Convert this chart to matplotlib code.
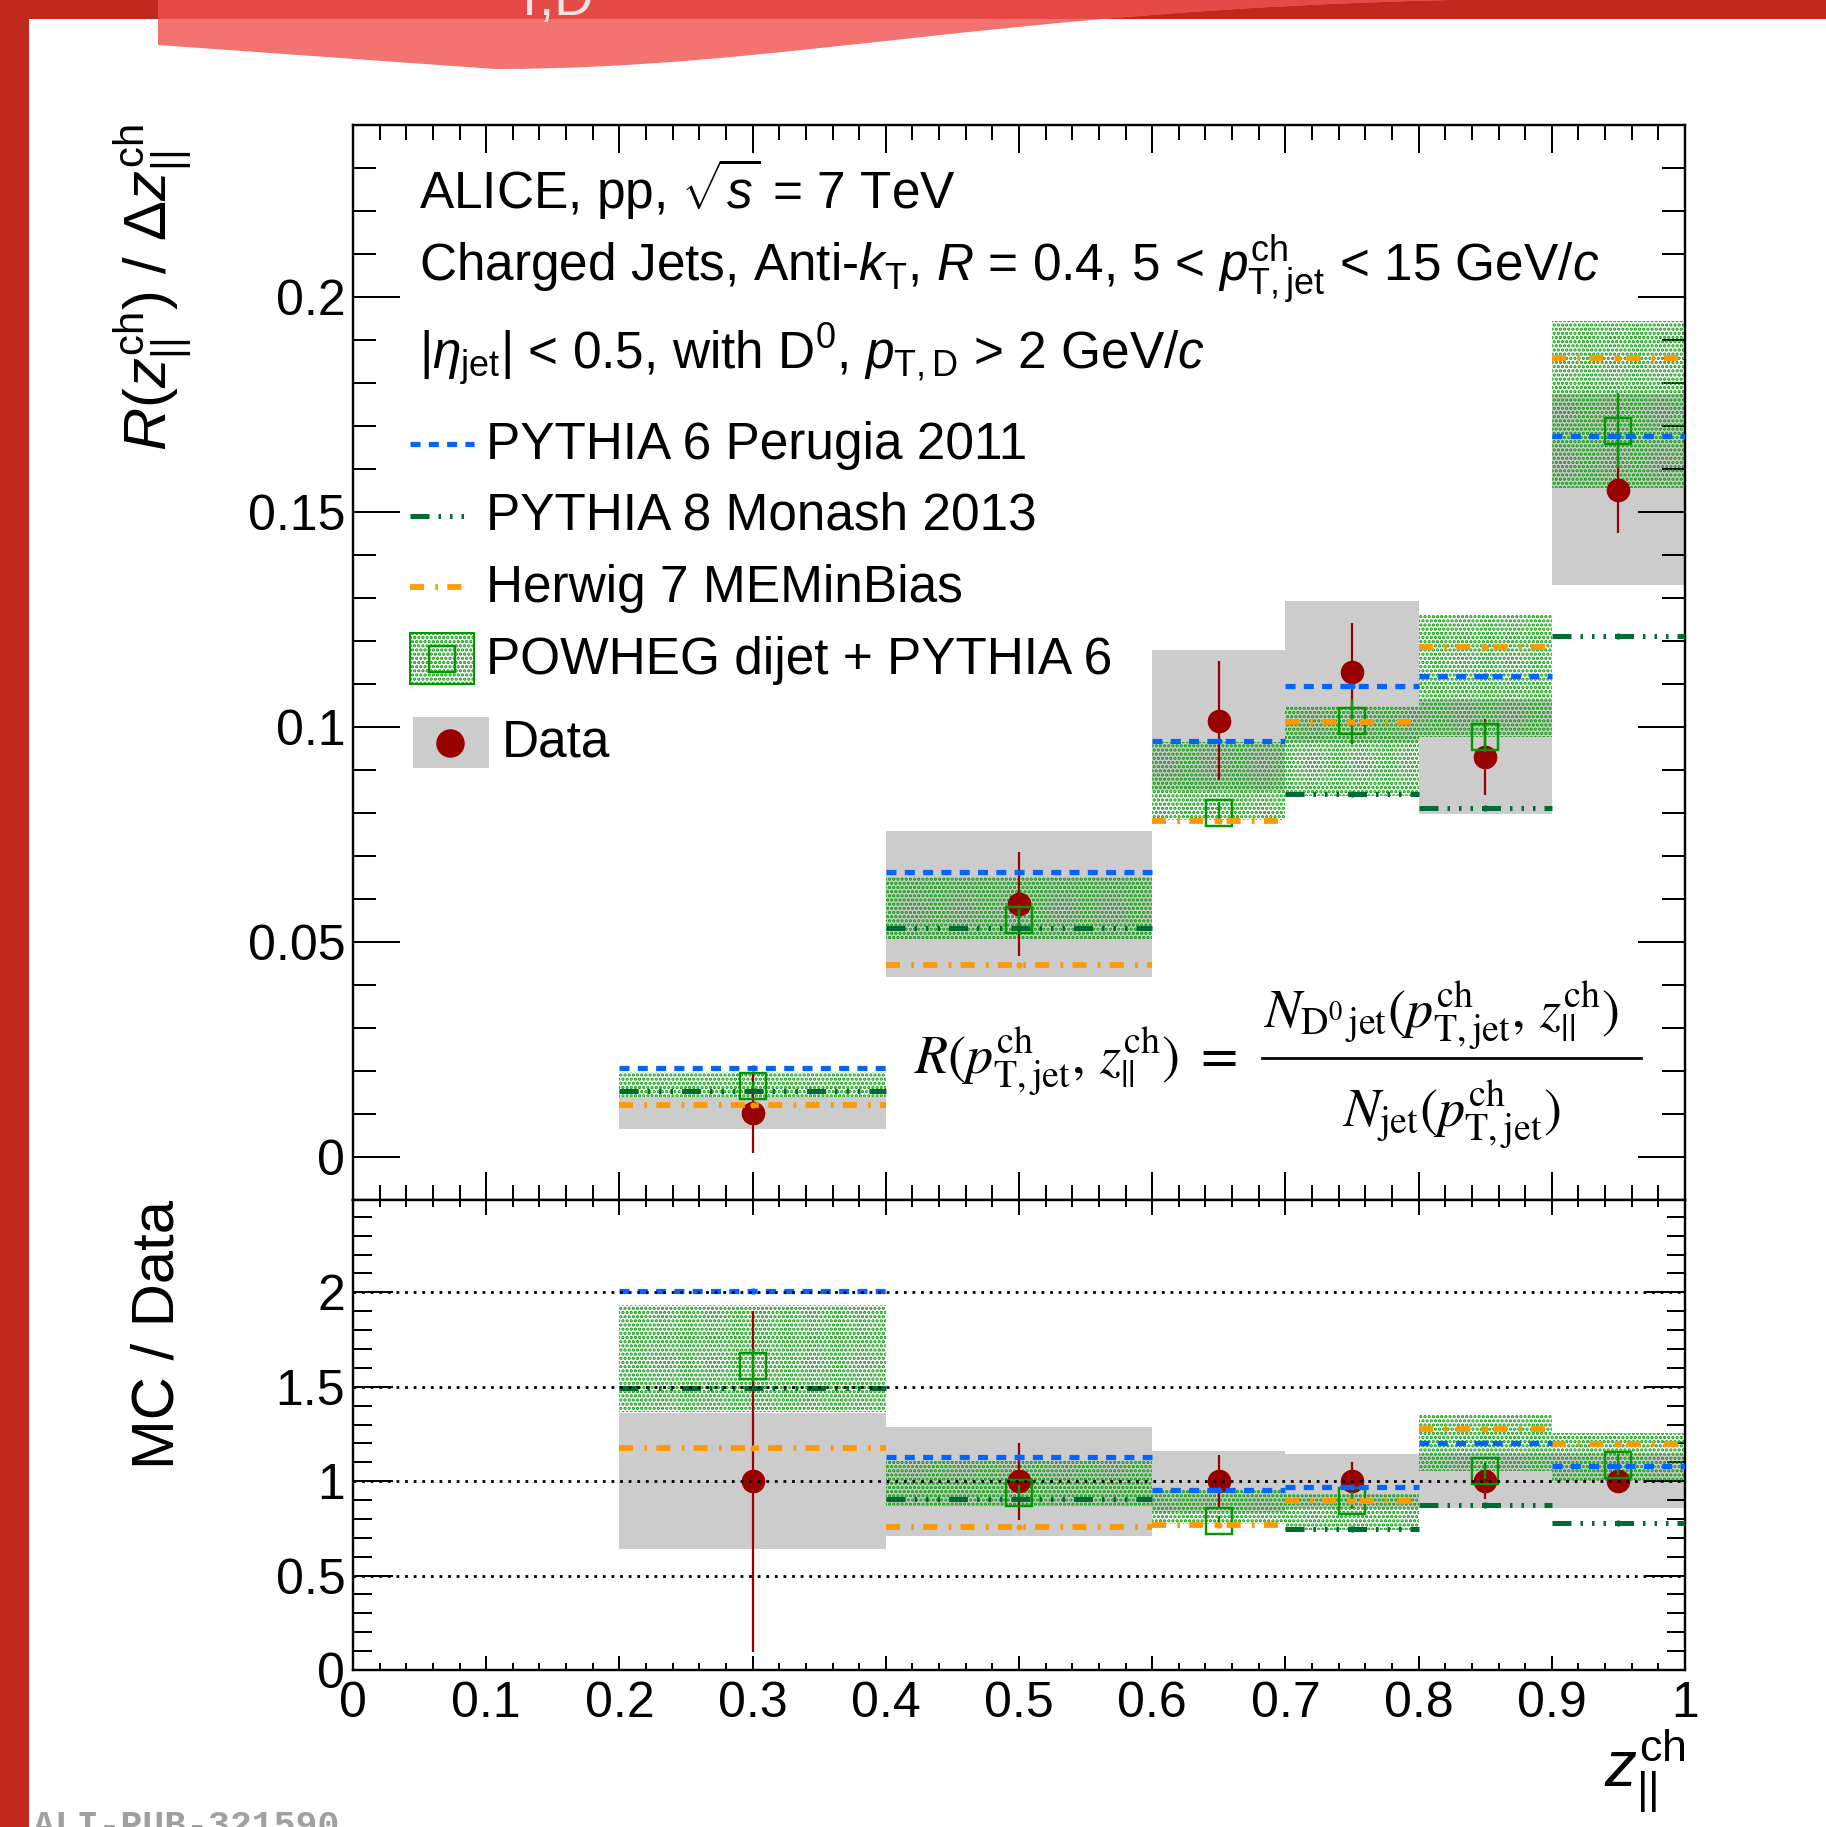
import numpy as np
import matplotlib
matplotlib.use("Agg")
import matplotlib.pyplot as plt
from matplotlib.patches import Rectangle, PathPatch
from matplotlib.path import Path
from matplotlib.lines import Line2D
from matplotlib.ticker import MultipleLocator, FuncFormatter

plt.rcParams['font.family'] = ['Liberation Sans', 'DejaVu Sans']
plt.rcParams['mathtext.fontset'] = 'custom'
plt.rcParams['mathtext.rm'] = 'Liberation Sans'
plt.rcParams['mathtext.it'] = 'Liberation Sans:italic'
plt.rcParams['mathtext.bf'] = 'Liberation Sans:bold'
plt.rcParams['lines.scale_dashes'] = False
plt.rcParams['hatch.linewidth'] = 1.6

# ---------------- data ----------------
z_edges = [0.2, 0.4, 0.6, 0.7, 0.8, 0.9, 1.0]

data_val = [0.0103, 0.0589, 0.1015, 0.1129, 0.0930, 0.1552]
data_stat = [0.0093, 0.0120, 0.0139, 0.0114, 0.0089, 0.0100]
data_sys = [0.0037, 0.0170, 0.0163, 0.0163, 0.0133, 0.0222]

pythia6 = [0.0207, 0.0664, 0.0968, 0.1096, 0.1119, 0.1676]
pythia8 = [0.0154, 0.0532, np.nan, 0.0844, 0.0811, 0.1212]
herwig = [0.0121, 0.0446, 0.0782, 0.1012, 0.1185, 0.1857]

powheg = [0.0166, 0.0552, 0.0801, 0.1013, 0.0978, 0.1689]
powheg_stat = [0.0009, 0.0025, 0.0025, 0.0052, 0.0035, 0.0088]
powheg_lo = [0.0141, 0.0508, 0.0784, 0.0840, 0.0978, 0.1555]
powheg_hi = [0.0199, 0.0652, 0.0966, 0.1050, 0.1262, 0.1944]

ratio_ref = [0.5, 1.0, 1.5, 2.0]

x_ticks_lab = ['0', '0.1', '0.2', '0.3', '0.4', '0.5', '0.6', '0.7', '0.8', '0.9', '1']

# ---------------- styles ----------------
PX = 0.72  # points per pixel at dpi 100
C_P6 = '#0066FF'
C_P8 = '#006B33'
C_HW = '#FF9900'
C_PW = '#009A00'
C_DATA = '#990000'
C_SYS = '#CCCCCC'

style_p6 = dict(color=C_P6, lw=5.2 * PX, ls=(0, (10 * PX, 8.3 * PX)), dash_capstyle='butt')
style_p8 = dict(color=C_P8, lw=5.0 * PX,
                ls=(0, (19 * PX, 9 * PX, 2.5 * PX, 9 * PX, 2.5 * PX, 9 * PX, 2.5 * PX, 9 * PX)),
                dash_capstyle='butt')
style_hw = dict(color=C_HW, lw=5.8 * PX, ls=(0, (14 * PX, 11.3 * PX, 2.7 * PX, 9.3 * PX)),
                dash_capstyle='butt')

edges = np.array(z_edges)
lefts = edges[:-1]
rights = edges[1:]
widths = rights - lefts
centers = 0.5 * (lefts + rights)

dv = np.array(data_val)
ds = np.array(data_stat)
dy = np.array(data_sys)
p6 = np.array(pythia6)
p8 = np.array(pythia8)
hw = np.array(herwig)
pw = np.array(powheg)
pws = np.array(powheg_stat)
pwl = np.array(powheg_lo)
pwh = np.array(powheg_hi)

W, H = 1826, 1827
fig = plt.figure(figsize=(W / 100, H / 100), dpi=100)

# ---------------- page decoration ----------------
deco = fig.add_axes([0, 0, 1, 1], zorder=-5)
deco.set_xlim(0, W)
deco.set_ylim(H, 0)
deco.axis('off')
dark_red = '#C1281E'
deco.add_patch(Rectangle((0, 0), W, 19, facecolor=dark_red, lw=0))
deco.add_patch(Rectangle((0, 0), 29, H, facecolor=dark_red, lw=0))
sw_verts = [(158, 0), (158, 45), (495, 69), (780, 69), (1000, 10), (1450, 0), (158, 0)]
sw_codes = [Path.MOVETO, Path.LINETO, Path.LINETO, Path.CURVE4, Path.CURVE4, Path.CURVE4,
            Path.CLOSEPOLY]
deco.add_patch(PathPatch(Path(sw_verts, sw_codes), facecolor='#F37371', lw=0))
sw_top = PathPatch(Path(sw_verts, sw_codes), facecolor='#E64A46', lw=0)
deco.add_patch(sw_top)
sw_top.set_clip_path(Rectangle((0, 0), W, 19, transform=deco.transData))
deco.text(513, 15, 'T,D', color='#EEE6E6', fontsize=39, va='baseline', ha='left')
deco.text(33, 1836, 'ALI-PUB-321590', family='Liberation Mono', fontsize=26.3,
          fontweight='bold', color='#A0A0A0', va='baseline', ha='left')

# ---------------- axes ----------------
ax = fig.add_axes([0.19332, 0.34297, 0.72946, 0.58878])
axr = fig.add_axes([0.19332, 0.08593, 0.72946, 0.25704])

fmt = FuncFormatter(lambda v, p: '%g' % round(v, 4))


def style_axis(a, xmaj, xmin, ymaj, ymin):
    for s in a.spines.values():
        s.set_linewidth(2.4 * PX)
    a.xaxis.set_major_locator(MultipleLocator(0.1))
    a.xaxis.set_minor_locator(MultipleLocator(0.02))
    a.tick_params(axis='both', which='both', direction='in', top=True, right=True,
                  width=2.0 * PX, labelsize=36)
    a.tick_params(axis='x', which='major', length=xmaj * PX, pad=8.0)
    a.tick_params(axis='x', which='minor', length=xmin * PX)
    a.tick_params(axis='y', which='major', length=ymaj * PX, pad=5.5)
    a.tick_params(axis='y', which='minor', length=ymin * PX)
    a.yaxis.set_major_formatter(fmt)
    a.set_xlim(0, 1)


style_axis(ax, 28, 15, 47.5, 23)
style_axis(axr, 14.5, 7.3, 40, 18.5)
ax.set_ylim(-0.01, 0.24)
ax.yaxis.set_major_locator(MultipleLocator(0.05))
ax.yaxis.set_minor_locator(MultipleLocator(0.01))
ax.tick_params(axis='x', labelbottom=False)
axr.set_ylim(0, 2.487)
axr.yaxis.set_major_locator(MultipleLocator(0.5))
axr.yaxis.set_minor_locator(MultipleLocator(0.1))
axr.set_xticks(np.linspace(0, 1, 11))
axr.set_xticklabels(x_ticks_lab)


def draw_panel(a, d, dstat, dsys, m6, m8, mh, mp, mps, mlo, mhi):
    a.bar(lefts, 2 * dsys, bottom=d - dsys, width=widths, align='edge',
          color=C_SYS, lw=0, zorder=1)
    a.bar(lefts, mhi - mlo, bottom=mlo, width=widths, align='edge',
          facecolor='none', edgecolor=C_PW, hatch='....', lw=0, zorder=2)
    a.errorbar(centers, d, yerr=dstat, fmt='o', color=C_DATA, ms=16,
               elinewidth=2.2 * PX, capsize=0, zorder=3)
    a.errorbar(centers, mp, yerr=mps, fmt='s', mfc='none', mec=C_PW, ecolor=C_PW,
               ms=18.5, mew=2.4 * PX, elinewidth=2.4 * PX, capsize=0, zorder=4)
    for vals, st in ((mh, style_hw), (m8, style_p8), (m6, style_p6)):
        for x0, x1, v in zip(lefts, rights, vals):
            if np.isfinite(v):
                a.plot([x0, x1], [v, v], zorder=5, **st)
        a.plot(centers, vals, 'o', ms=4.5, color=st['color'], mew=0, zorder=5)


draw_panel(ax, dv, ds, dy, p6, p8, hw, pw, pws, pwl, pwh)
draw_panel(axr, dv / dv, ds / dv, dy / dv, p6 / dv, p8 / dv, hw / dv, pw / dv,
           pws / dv, pwl / dv, pwh / dv)

for r in ratio_ref:
    axr.axhline(r, color='black', lw=2.8 * PX, ls=(0, (2.8 * PX, 5.8 * PX)),
                dash_capstyle='butt', zorder=6)

# ---------------- axis titles ----------------
ax.text(-0.1389, 1.0, r'$R(z_{||}^{\rm ch})$ / $\Delta z_{||}^{\rm ch}$', transform=ax.transAxes,
        rotation=90, rotation_mode='anchor', ha='right', va='baseline', fontsize=43)
axr.text(-0.1344, 1.0, 'MC / Data', transform=axr.transAxes,
         rotation=90, rotation_mode='anchor', ha='right', va='baseline', fontsize=43)
axr.text(1.0, -0.2491, r'$z_{||}^{\rm ch}$', transform=axr.transAxes,
         ha='right', va='baseline', fontsize=46)

# ---------------- labels and legend ----------------
tf = ax.transAxes
FS = 37
ax.text(0.0495, 0.9213, r'ALICE, pp, $\sqrt{s}$ = 7 TeV', transform=tf, fontsize=FS,
        va='baseline')
ax.text(0.0495, 0.8539,
        r'Charged Jets, Anti-$k_{\rm T}$, $R$ = 0.4, 5 < $p_{\rm T,jet}^{\rm ch}$ < 15 GeV/$c$',
        transform=tf, fontsize=FS, va='baseline')
ax.text(0.0495, 0.7721, r'|$\eta_{\rm jet}$| < 0.5, with D$^{0}$, $p_{\rm T,D}$ > 2 GeV/$c$',
        transform=tf, fontsize=FS, va='baseline')

legend_rows = [
    ('PYTHIA 6 Perugia 2011', 0.6889, 0.7035, 0.0906, style_p6),
    ('PYTHIA 8 Monash 2013', 0.6237, 0.6363, 0.0841, style_p8),
    ('Herwig 7 MEMinBias', 0.5562, 0.5698, 0.0841, style_hw),
]
for label, yb, yl, xe, st in legend_rows:
    ax.add_line(Line2D([0.0431, xe], [yl, yl], transform=tf, **st))
    ax.text(0.1000, yb, label, transform=tf, fontsize=FS, va='baseline')

ax.add_patch(Rectangle((0.0431, 0.4802), 0.0475, 0.0469, transform=tf, facecolor='none',
                       edgecolor=C_PW, hatch='....', lw=2.0 * PX))
ax.add_line(Line2D([0.0668], [0.5036], transform=tf, marker='s', ms=18.5, mfc='none',
                   mec=C_PW, mew=2.4 * PX, ls='none'))
ax.text(0.1000, 0.4897, 'POWHEG dijet + PYTHIA 6', transform=tf, fontsize=FS, va='baseline')

ax.add_patch(Rectangle((0.0450, 0.4017), 0.0571, 0.0473, transform=tf, facecolor=C_SYS, lw=0))
ax.add_line(Line2D([0.0730], [0.4253], transform=tf, marker='o', ms=19.5, color=C_DATA,
                   ls='none'))
ax.text(0.1115, 0.4129, 'Data', transform=tf, fontsize=FS, va='baseline')

# ---------------- definition of R ----------------
FF = 39
ax.text(0.4215, 0.1182, r'$R(p_{\mathrm{T,jet}}^{\mathrm{ch}},\,z_{||}^{\mathrm{ch}})\ =$',
        transform=tf, fontsize=FF, math_fontfamily='stix', va='baseline', ha='left')
ax.text(0.6832, 0.1609,
        r'$N_{\mathrm{D}^{0}\,\mathrm{jet}}(p_{\mathrm{T,jet}}^{\mathrm{ch}},\,z_{||}^{\mathrm{ch}})$',
        transform=tf, fontsize=FF, math_fontfamily='stix', va='baseline', ha='left')
ax.text(0.8247, 0.0692, r'$N_{\mathrm{jet}}(p_{\mathrm{T,jet}}^{\mathrm{ch}})$',
        transform=tf, fontsize=FF, math_fontfamily='stix', va='baseline', ha='center')
ax.add_line(Line2D([0.6827, 0.9670], [0.1321, 0.1321], transform=tf, color='black',
                   lw=2.7 * PX))

fig.savefig('out.png', dpi=100)
